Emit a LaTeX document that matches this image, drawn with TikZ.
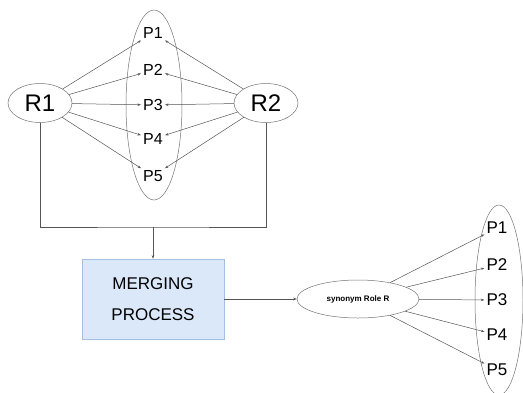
\documentclass[tikz,border=0pt]{standalone}
\usepackage{fontspec}
\setsansfont{Liberation Sans}
\usepackage{xcolor}
\usetikzlibrary{arrows.meta,calc,positioning,shapes.geometric}

\definecolor{mergefill}{RGB}{218,232,250}
\definecolor{mergeedge}{RGB}{165,190,228}
\definecolor{linegray}{RGB}{85,85,85}

\begin{document}
\begin{tikzpicture}[font=\sffamily, x=1pt, y=-1pt,
    conn/.style={linegray, line width=0.5pt},
    arr/.style={conn, -{Stealth[length=3.5pt,width=2.5pt]}},
    oval/.style={draw=black!55, line width=0.5pt, ellipse, inner sep=0pt},
    rolebig/.style={oval, minimum width=64pt, minimum height=39pt,
      font=\sffamily\fontsize{24}{26}\selectfont},
    plabel/.style={inner sep=2pt, font=\sffamily\fontsize{16}{18}\selectfont}]
  \useasboundingbox (0,0) rectangle (523,392);

  % the two roles and the property set they share
  \node[oval, minimum width=56pt, minimum height=190pt] (PS) at (154,105) {};
  \node[rolebig] (R1) at (40,103) {R1};
  \node[rolebig] (R2) at (266,103) {R2};
  \foreach \i/\y in {1/33,2/70,3/105,4/139,5/176}{
    \node[plabel] (P\i) at (153,\y) {P\i};
  }
  \foreach \i in {1,...,5}{
    \draw[arr] (R1) -- (P\i);
    \draw[arr] (R2) -- (P\i);
  }

  % join both roles and feed the merge
  \coordinate (J) at (153,227);
  \draw[conn] (R1.south) |- (J) -| (R2.south);
  \node[draw=mergeedge, fill=mergefill, line width=0.6pt,
        minimum width=142pt, minimum height=80pt, align=center,
        font=\sffamily\fontsize{17}{31}\selectfont] (MP) at (153,299)
    {MERGING\\PROCESS};
  \draw[arr] (J) -- (MP);

  % resulting role with all properties
  \node[oval, minimum width=122pt, minimum height=38pt,
        font=\sffamily\bfseries\fontsize{8}{9}\selectfont] (SR) at (358,299)
    {synonym Role R};
  \draw[arr] (MP) -- (SR);

  \node[oval, minimum width=48pt, minimum height=190pt] (QS) at (499,300) {};
  \foreach \i/\y in {1/228,2/265,3/300,4/335,5/370}{
    \node[plabel, font=\sffamily\fontsize{17}{19}\selectfont] (Q\i) at (497,\y) {P\i};
    \draw[arr] (SR) -- (Q\i);
  }
\end{tikzpicture}
\end{document}
